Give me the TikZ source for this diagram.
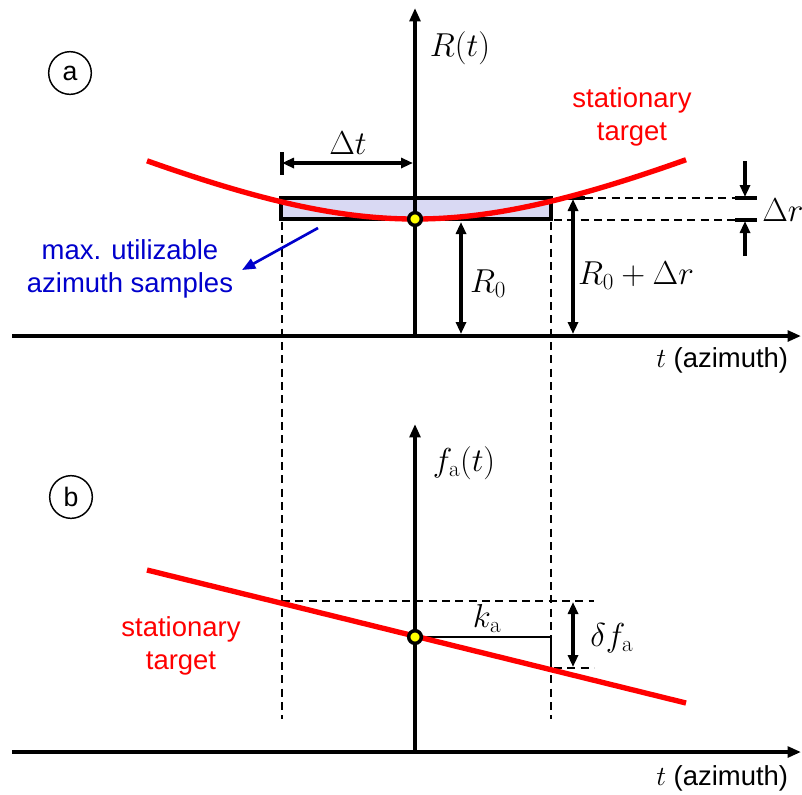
\documentclass[tikz,border=0pt]{standalone}
\usepackage[no-math]{fontspec}
\setmainfont{Liberation Sans}
\usetikzlibrary{arrows.meta}
\definecolor{redc}{RGB}{255,0,0}
\definecolor{bluec}{RGB}{0,0,204}
\definecolor{boxfill}{RGB}{217,217,243}
\definecolor{dotyellow}{RGB}{255,255,0}
\begin{document}
\begin{tikzpicture}[x=0.75pt,y=-0.75pt,
  axis/.style={line width=2.5pt,-{Triangle[length=10pt,width=8pt]}},
  dim/.style={line width=2.3pt,{Triangle[length=9pt,width=7.5pt]}-{Triangle[length=9pt,width=7.5pt]}},
  dimend/.style={line width=2.3pt,-{Triangle[length=9pt,width=7.5pt]}},
  guide/.style={line width=1.5pt,dash pattern=on 6pt off 4pt},
  barline/.style={line width=2.3pt},
  target/.style={line width=4pt,draw=redc},
  txt/.style={font=\fontsize{20.6}{24.7}\selectfont,align=center,inner sep=0pt},
  mth/.style={font=\fontsize{23.5}{28}\selectfont,inner sep=0pt},
  panel/.style={circle,draw,line width=1.1pt,minimum size=32pt,inner sep=0pt,font=\fontsize{20}{24}\selectfont},
  tdot/.style={circle,fill=dotyellow,draw=black,line width=2.6pt,minimum size=9.5pt,inner sep=0pt}
]
\useasboundingbox (0,0) rectangle (802,794);
\clip (0,0) rectangle (802,794);

% ---------- panel (a) ----------
\coordinate (ax1L) at (12,336);
\coordinate (ax1R) at (801,336);
\coordinate (ax1B) at (415,336);
\coordinate (ax1T) at (415,8);

\draw[fill=boxfill,line width=2.5pt] (281,198) rectangle (551,219);

% guides
\coordinate (gL1) at (282,222);
\coordinate (gL2) at (282,719);
\coordinate (gR1) at (551,222);
\coordinate (gR2) at (551,719);
\draw[guide] (gL1) -- (gL2);
\draw[guide] (gR1) -- (gR2);
\coordinate (hT1) at (585,198);
\coordinate (hT2) at (736,198);
\coordinate (hB1) at (554,220);
\coordinate (hB2) at (736,220);
\draw[guide] (hT1) -- (hT2);
\draw[guide] (hB1) -- (hB2);

\draw[axis] (ax1L) -- (ax1R);
\draw[axis] (ax1B) -- (ax1T);

\node[mth] (Rt) at (460,48) {$R(t)$};
\node[panel] (pa) at (70,73) {a};
\node[txt,text=redc] (st1) at (632,117) {stationary\\target};
\node[txt,text=bluec] (mu) at (130,269) {max. utilizable\\azimuth samples};
\node[txt,anchor=west] (ta1) at (656,360) {$\fontsize{23.5}{28}\selectfont t$ (azimuth)};

% Delta t
\coordinate (dtL) at (282,163);
\coordinate (dtR) at (413,163);
\coordinate (dtb1) at (282,152);
\coordinate (dtb2) at (282,175);
\draw[barline] (dtb1) -- (dtb2);
\draw[dim] (dtL) -- (dtR);
\node[mth] (dt) at (348,143) {$\Delta t$};

% R0
\coordinate (r0T) at (461,222);
\coordinate (r0B) at (461,334);
\draw[dim] (r0T) -- (r0B);
\node[mth] (r0) at (488,284) {$R_0$};

% R0 + Delta r
\coordinate (r1T) at (573,199);
\coordinate (r1B) at (573,334);
\coordinate (r1b1) at (561,198);
\coordinate (r1b2) at (585,198);
\draw[barline] (r1b1) -- (r1b2);
\draw[dim] (r1T) -- (r1B);
\node[mth] (r1) at (636,276) {$R_0+\Delta r$};

% Delta r
\coordinate (drA1) at (745,161);
\coordinate (drA2) at (745,197);
\coordinate (drB1) at (745,256);
\coordinate (drB2) at (745,221);
\coordinate (drb1) at (735,198);
\coordinate (drb2) at (757,198);
\coordinate (drb3) at (735,220);
\coordinate (drb4) at (757,220);
\draw[dimend] (drA1) -- (drA2);
\draw[dimend] (drB1) -- (drB2);
\draw[barline] (drb1) -- (drb2);
\draw[barline] (drb3) -- (drb4);
\node[mth,anchor=west] (dr) at (762,210) {$\Delta r$};

% blue pointer
\coordinate (bfrom) at (318,228);
\coordinate (bto) at (242,270);
\draw[bluec,line width=2pt,-{Triangle[length=10pt,width=8pt]}] (bfrom) -- (bto);

% hyperbola
\draw[target] plot[domain=-268:271,samples=120,smooth] ({415+\x},{219-100*(sqrt(1+0.2093*(\x/100)*(\x/100))-1)});
\node[tdot] (d1) at (415,219) {};

% ---------- panel (b) ----------
\coordinate (ax2L) at (12,752);
\coordinate (ax2R) at (801,752);
\coordinate (ax2B) at (415,752);
\coordinate (ax2T) at (415,424);

\coordinate (hf1) at (282,601);
\coordinate (hf2) at (594,601);
\coordinate (hf3) at (554,668);
\coordinate (hf4) at (594,668);
\draw[guide] (hf1) -- (hf2);
\draw[guide] (hf3) -- (hf4);

\draw[axis] (ax2L) -- (ax2R);
\draw[axis] (ax2B) -- (ax2T);

\node[mth] (fat) at (464,463) {$f_{\mathrm{a}}(t)$};
\node[panel] (pb) at (71,497) {b};
\node[txt,text=redc] (st2) at (181,646) {stationary\\target};
\node[txt,anchor=west] (ta2) at (656,778) {$\fontsize{23.5}{28}\selectfont t$ (azimuth)};

% k_a step
\coordinate (ka1) at (415,637);
\coordinate (ka2) at (551,637);
\coordinate (ka3) at (551,669);
\draw[line width=2.2pt] (ka1) -- (ka2) -- (ka3);
\node[mth] (ka) at (487,618) {$k_{\mathrm{a}}$};

% delta f_a
\coordinate (dfT) at (573,602);
\coordinate (dfB) at (573,667);
\draw[dim] (dfT) -- (dfB);
\node[mth,anchor=west] (dfa) at (590,638) {$\delta f_{\mathrm{a}}$};

% red line
\coordinate (lnA) at (147,570);
\coordinate (lnB) at (686,703);
\draw[target] (lnA) -- (lnB);
\node[tdot] (d2) at (415,637) {};
\end{tikzpicture}
\end{document}
